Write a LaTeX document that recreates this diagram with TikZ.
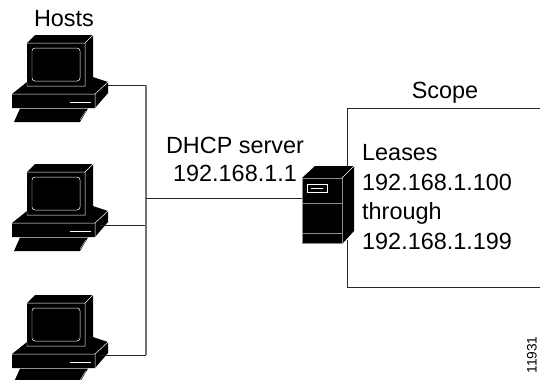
\documentclass[tikz,border=0pt]{standalone}
\usepackage{fontspec}
\setmainfont{Liberation Sans}
\tikzset{
    font={\fontsize{23.5pt}{28}\selectfont},
    wire/.style={draw=black!85, line width=0.9pt},
    trunk/.style={draw=black!55, line width=1.3pt},
    label/.style={inner sep=0pt, align=center},
    host/.pic={
        \fill[black] (27,43) -- (35,35) -- (93,35) -- (93,77) -- (108,82) -- (108,93) -- (95,108) -- (12,108) -- (12,94) -- (27,82) -- cycle;
        \draw[white, line width=0.5pt, rounded corners=3pt] (32,48) rectangle (80,81);
        \draw[white, line width=0.5pt] (27,43) -- (85,43) -- (93,35) (85,43) -- (85,86) -- (27,86) -- (27,82);
        \draw[white, line width=0.5pt] (12,94) -- (95,94) -- (108,82) (95,94) -- (95,108);
        \draw[white, line width=0.8pt] (70,102) -- (91,102);
        \fill[black] (20,108.5) -- (88,108.5) -- (80,122) -- (14,122) -- cycle;
        \draw[white, line width=0.4pt] (86,111) -- (80,120);
    }
}
\begin{document}
\begin{tikzpicture}[x=1bp, y=-1bp]
    \useasboundingbox (0,0) rectangle (540,379);
    \pic at (0,0) {host};
    \pic at (0,129) {host};
    \pic at (0,260) {host};
    \node[label] (hosts) at (64,19) {Hosts};
    \node[label] (dhcp) at (235,159) {DHCP server\\192.168.1.1};
    \node[label] (scopelabel) at (445,93) {Scope};
    \node[label, align=left, anchor=west, font={\fontsize{23.5pt}{29.6}\selectfont}] (leases) at (362,197) {Leases\\192.168.1.100\\through\\192.168.1.199};
    \node[label, rotate=90, font={\fontsize{13.8pt}{17}\selectfont}] (tag) at (532,355) {11931};
    % Server
    \fill[black] (302,178) -- (315,166) -- (354,166) -- (354,231) -- (343,243) -- (302,243) -- cycle;
    \coordinate (srv) at (302,198);
    \draw[white, line width=0.5pt] (342,178) -- (354,166);
    \draw[black!45, line width=0.7pt] (302,178) -- (342,178) -- (342,243) -- (302,243) -- cycle (302,203) -- (342,203) (302,233) -- (342,233);
    \draw[white, line width=0.6pt] (307,184) rectangle (327,192);
    \draw[white, line width=0.8pt] (311,188) -- (323,188);
    % Wiring
    \coordinate (h1) at (108,85);
    \coordinate (h2) at (100,225);
    \coordinate (h3) at (100,355);
    \coordinate (bus) at (146,198);
    \draw[wire] (h1) -- (146,85);
    \draw[wire] (h2) -- (146,225);
    \draw[wire] (h3) -- (146,355);
    \draw[trunk] (146,85) -- (146,355);
    \draw[wire] (bus) -- (srv);
    \draw[wire] (540,108) -- (347.5,108) -- (347.5,166);
    \draw[wire] (347.5,240) -- (347.5,287) -- (540,287);
\end{tikzpicture}
\end{document}
